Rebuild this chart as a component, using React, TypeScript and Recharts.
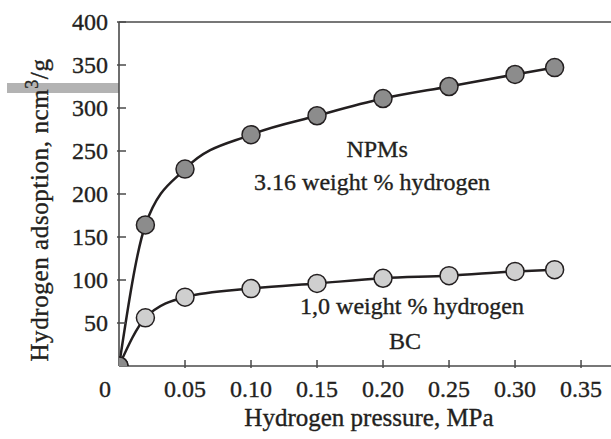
import React from 'react';
import { LineChart, Line, XAxis, YAxis, ReferenceLine, ReferenceDot } from 'recharts';

// pressure, MPa
const pressure = [0, 0.02, 0.05, 0.1, 0.15, 0.2, 0.25, 0.3, 0.33];
// adsorption, ncm3/g
const npmValues = [0, 164, 229, 269, 291, 311, 325, 339, 347];
const bcValues = [0, 56, 80, 90, 96, 102, 105, 110, 112];

const xTicks = [0, 0.05, 0.1, 0.15, 0.2, 0.25, 0.3, 0.35];
const yTicks = [50, 100, 150, 200, 250, 300, 350, 400];

const annotations = [
  { text: 'NPMs', x: 0.1955, y: 253 },
  { text: '3.16 weight % hydrogen', x: 0.1917, y: 215 },
  { text: '1,0 weight % hydrogen', x: 0.222, y: 70 },
  { text: 'BC', x: 0.2167, y: 30 },
];

const data = pressure.map((p, i) => ({ p, npm: npmValues[i], bc: bcValues[i] }));

const FONT = 'Liberation Serif';
const INK = '#231f20';
const AXIS = '#4a4a4a';
// a hair of stroke makes Times look closer to the heavier print face
const textStyle = { fontFamily: FONT, stroke: INK, strokeWidth: 0.35 };

const XTick = (props: any) => {
  const { x, y, payload } = props;
  const v = payload.value as number;
  const label = v === 0 ? '0' : v.toFixed(2);
  return (
    <g>
      {v !== 0 && <line x1={x} x2={x} y1={y} y2={y - 8} stroke={AXIS} strokeWidth={1.5} />}
      <text x={v === 0 ? x - 14 : x} y={y + 29} textAnchor="middle" style={textStyle} fontSize={24} fill={INK}>
        {label}
      </text>
    </g>
  );
};

const YTick = (props: any) => {
  const { x, y, payload } = props;
  return (
    <g>
      <line x1={x} x2={x + 9} y1={y} y2={y} stroke={AXIS} strokeWidth={1.5} />
      <text x={x - 9} y={y + 8} textAnchor="end" style={textStyle} fontSize={24} fill={INK}>
        {payload.value}
      </text>
    </g>
  );
};

const App: React.FC = () => {
  return (
    <div style={{ position: 'absolute', left: 0, top: 0, width: 611, height: 439, background: '#fff' }}>
      {/* stray grey bar from the scanned figure */}
      <div style={{ position: 'absolute', left: 7, top: 83, width: 112, height: 10, background: '#b3b3b3' }} />
      <div style={{ position: 'absolute', left: 0, top: 0 }}>
        <LineChart width={611} height={439} data={data} margin={{ top: 22, right: 0, bottom: 0, left: 0 }}>
          <XAxis
            dataKey="p"
            type="number"
            domain={[0, 0.3727]}
            ticks={xTicks}
            allowDataOverflow
            tickSize={0}
            tickLine={false}
            tick={<XTick />}
            height={73}
            axisLine={{ stroke: AXIS, strokeWidth: 1.6 }}
            label={{
              content: () => (
                <text x={369} y={426} textAnchor="middle" style={textStyle} fontSize={25} fill={INK}>
                  Hydrogen pressure, MPa
                </text>
              ),
            }}
          />
          <YAxis
            type="number"
            domain={[0, 400]}
            ticks={yTicks}
            width={119}
            allowDataOverflow
            tickSize={0}
            tickLine={false}
            tick={<YTick />}
            axisLine={{ stroke: AXIS, strokeWidth: 1.6 }}
            label={{
              content: () => (
                <text
                  x={0}
                  y={0}
                  transform="translate(48 210) rotate(-90)"
                  textAnchor="middle"
                  style={textStyle}
                  fontSize={25}
                  letterSpacing={0.6}
                  fill={INK}
                >
                  Hydrogen adsoption, ncm<tspan dy={-10} fontSize={18}>3</tspan>
                  <tspan dy={10}>/g</tspan>
                </text>
              ),
            }}
          />
          <ReferenceLine y={400} stroke={AXIS} strokeWidth={1.6} />
          <Line
            dataKey="bc"
            type="monotone"
            stroke={INK}
            strokeWidth={2.5}
            isAnimationActive={false}
            dot={{ r: 9, fill: '#cfcfcf', stroke: INK, strokeWidth: 1.5, clipDot: true }}
          />
          <Line
            dataKey="npm"
            type="monotone"
            stroke={INK}
            strokeWidth={2.5}
            isAnimationActive={false}
            dot={{ r: 9, fill: '#8c8c8c', stroke: INK, strokeWidth: 1.5, clipDot: true }}
          />
          {annotations.map((a) => (
            <ReferenceDot
              key={a.text}
              x={a.x}
              y={a.y}
              r={0}
              stroke="none"
              fill="none"
              label={{ value: a.text, position: 'center', style: textStyle, fontSize: 24, fill: INK }}
            />
          ))}
        </LineChart>
      </div>
    </div>
  );
};

export default App;
